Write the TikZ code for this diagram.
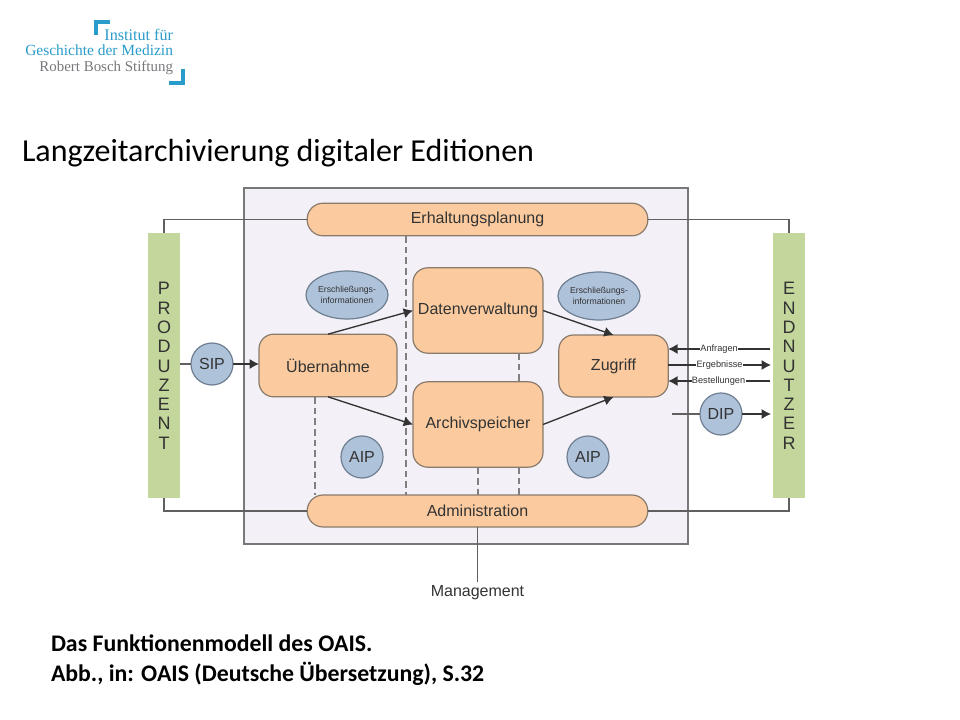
\documentclass[tikz,border=0pt]{standalone}
\usepackage{fontspec}
\setmainfont{Liberation Sans}
\newfontfamily\calibrifont{Carlito}
\newfontfamily\logofont{Liberation Serif}
\usetikzlibrary{arrows.meta,shapes.geometric}
\definecolor{boxfill}{HTML}{FBCB9F}
\definecolor{boxline}{HTML}{8A7A6C}
\definecolor{bluefill}{HTML}{AEC2DA}
\definecolor{blueline}{HTML}{6F7F92}
\definecolor{barfill}{HTML}{C3D69B}
\definecolor{panel}{HTML}{F3F1F7}
\definecolor{wire}{HTML}{606060}
\definecolor{logoblue}{HTML}{2A9CCB}
\definecolor{logogray}{HTML}{77787B}
\definecolor{txt}{HTML}{333333}
\tikzset{
  x=0.75pt,y=-0.75pt,
  every node/.style={inner sep=0pt,outer sep=0pt,text=txt},
  func/.style={draw=boxline,fill=boxfill,line width=0.9pt,rounded corners=11pt,font=\fontsize{12pt}{13pt}\selectfont,align=center},
  pill/.style={draw=boxline,fill=boxfill,line width=0.9pt,rounded corners=12pt,font=\fontsize{12pt}{13pt}\selectfont},
  pkg/.style={circle,draw=blueline,fill=bluefill,line width=0.9pt,minimum size=31.5pt,font=\fontsize{12pt}{13pt}\selectfont},
  info/.style={ellipse,draw=blueline,fill=bluefill,line width=0.9pt,minimum width=61.5pt,minimum height=36pt,align=center,font=\fontsize{6.5pt}{8pt}\selectfont},
  bar/.style={fill=barfill,minimum width=24pt,minimum height=199pt,align=center,font=\fontsize{13.5pt}{14.45pt}\selectfont},
  wireline/.style={draw=wire,line width=0.8pt},
  dashline/.style={draw=wire!80,line width=0.9pt,dash pattern=on 5pt off 3pt},
  flow/.style={draw=black!80,line width=1pt,-{Latex[length=7pt,width=7.5pt]}},
  flowlabel/.style={fill=white,inner xsep=0.3pt,font=\fontsize{6.9pt}{8pt}\selectfont},
  logotext/.style={anchor=base east,font=\logofont\fontsize{11.6pt}{13pt}\selectfont},
  bracket/.style={draw=logoblue,line width=3pt}
}
\begin{document}
\begin{tikzpicture}
\useasboundingbox (0,0) rectangle (960,720);
\fill[white] (0,0) rectangle (960,720);

% logo
\draw[bracket] (96,35) -- (96,22) -- (110,22);
\draw[bracket] (169,83) -- (183,83) -- (183,69);
\node[logotext,text=logoblue,font=\logofont\fontsize{12.1pt}{13pt}\selectfont] (l1) at (173,41) {Institut für};
\node[logotext,text=logoblue] (l2) at (173,56) {Geschichte der Medizin};
\node[logotext,text=logogray,font=\logofont\fontsize{11.2pt}{13pt}\selectfont] (l3) at (173,72) {Robert Bosch Stiftung};

% title and caption
\node[anchor=base west,font=\calibrifont\fontsize{24pt}{28pt}\selectfont,text=black] (title) at (22,161.5) {Langzeitarchivierung digitaler Editionen};
\node[anchor=base west,font=\calibrifont\bfseries\fontsize{17.85pt}{22pt}\selectfont,text=black] (cap1) at (51,651) {Das Funktionenmodell des OAIS.};
\node[anchor=base west,font=\calibrifont\bfseries\fontsize{17.85pt}{22pt}\selectfont,text=black] (cap2) at (51,681) {Abb., in: OAIS (Deutsche Übersetzung), S.32};

% panel
\node[draw=wire!85,fill=panel,line width=0.8pt,minimum width=333pt,minimum height=267pt] (panel) at (466,366) {};

% bars
\node[bar] (prod) at (164,365.5) {\raisebox{0.75pt}{P}\\R\\O\\D\\U\\Z\\E\\N\\T};
\node[bar] (endn) at (789,365.5) {\raisebox{0.75pt}{E}\\N\\D\\N\\U\\T\\Z\\E\\R};

% pills
\node[pill,minimum width=255.5pt,minimum height=24.5pt] (erh) at (477.5,219.5) {Erhaltungsplanung};
\node[pill,minimum width=255.5pt,minimum height=24pt] (adm) at (477.5,511) {Administration};

% connections behind boxes
\draw[wireline] (prod.north) |- (erh.west);
\draw[wireline] (endn.north) |- (erh.east);
\draw[wireline] (prod.south) |- (adm.west);
\draw[wireline] (endn.south) |- (adm.east);

% functional entities
\node[func,minimum width=103.5pt,minimum height=47pt] (ueb) at (328,365.5) {Übernahme};
\node[func,minimum width=97.5pt,minimum height=64pt] (dat) at (478,310.5) {Datenverwaltung};
\node[func,minimum width=97.5pt,minimum height=64pt] (arc) at (478,424.5) {Archivspeicher};
\node[func,minimum width=82pt,minimum height=46.5pt] (zug) at (613.5,366) {Zugriff};

% dashed
\coordinate (d1) at (406,236);
\coordinate (d2) at (406,495);
\coordinate (d3) at (315,397);
\coordinate (d4) at (315,495);
\coordinate (d5) at (519,353);
\coordinate (d6) at (519,382);
\coordinate (d7) at (519,467);
\coordinate (d8) at (519,495);
\draw[dashline] (d1) -- (d2);
\draw[dashline] (d3) -- (d4);
\draw[dashline] (d5) -- (d6);
\draw[dashline] (d7) -- (d8);
\draw[dashline] (arc.south) -- (arc.south |- adm.north);

% info and packages
\node[info] (e1) at (347,295) {Erschließungs-\\informationen};
\node[info] (e2) at (599,296) {Erschließungs-\\informationen};
\node[pkg] (sip) at (212,364) {SIP};
\node[pkg] (aip1) at (362,457) {AIP};
\node[pkg] (aip2) at (588,457) {AIP};
\node[pkg] (dip) at (721,414) {DIP};

% arrows
\draw[wireline] (prod.east |- sip) -- (sip);
\draw[flow] (sip) -- (ueb.west |- sip);
\draw[flow] (ueb.north) -- (dat.west);
\draw[flow] (ueb.south) -- (arc.west);
\draw[flow] (dat.east) -- (zug.north);
\draw[flow] (arc.east) -- (zug.south);

\coordinate (q1) at (770,349);
\coordinate (q2) at (771,365);
\coordinate (q3) at (770,381);
\coordinate (q4) at (672,414);
\coordinate (q5) at (771,414);
\draw[flow] (q1) -- node[flowlabel,pos=0.5] (anf) {Anfragen} (zug.east |- q1);
\draw[flow] (zug.east |- q2) -- node[flowlabel,pos=0.5] (erg) {Ergebnisse} (q2);
\draw[flow] (q3) -- node[flowlabel,pos=0.505] (bes) {Bestellungen} (zug.east |- q3);
\draw[wireline] (q4) -- (dip);
\draw[flow] (dip) -- (q5);

% management
\node[font=\fontsize{12pt}{13pt}\selectfont] (man) at (477.5,592.5) {Management};
\draw[wireline] (adm.south) -- ([yshift=2.5pt]man.north);
\end{tikzpicture}
\end{document}
